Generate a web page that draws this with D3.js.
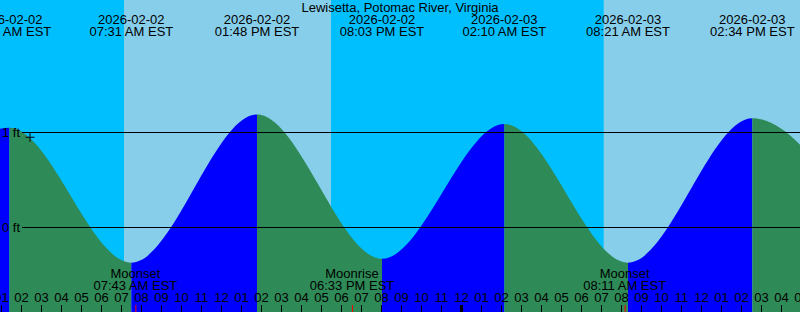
<!DOCTYPE html>
<html>
<head>
<meta charset="utf-8">
<script src="https://cdn.jsdelivr.net/npm/d3@7"></script>
<style>
  body { margin: 0; background: #fff; }
  svg { display: block; font-family: "Liberation Sans", Arial, sans-serif; }
</style>
</head>
<body>
<div id="tidechart"></div>
<script>
const stationName = "Lewisetta, Potomac River, Virginia";

// high / low tide predictions (first and last are just outside the window)
const tideTimes = ["2026-02-01 19:10", "2026-02-02 01:25", "2026-02-02 07:31", "2026-02-02 13:48",
    "2026-02-02 20:03", "2026-02-03 02:10", "2026-02-03 08:21", "2026-02-03 14:34", "2026-02-03 20:50"];
const tideHeights = [-0.32, 1.05, -0.37, 1.19, -0.33, 1.09, -0.37, 1.15, -0.32];

const sunriseTimes = ["2026-02-02 07:09", "2026-02-03 07:08"];
const sunsetTimes = ["2026-02-02 17:30", "2026-02-03 17:31"];

const moonEvents = ["Moonset", "Moonrise", "Moonset"];
const moonTimes = ["2026-02-02 07:43", "2026-02-02 18:33", "2026-02-03 08:11"];

const levelTicks = [0, 1];
const nowTime = "2026-02-02 02:27";
const nowLevel = 0.95;

const parse = d3.timeParse("%Y-%m-%d %H:%M");

function tidechart() {
    const width = 800, height = 312;

    const svg = d3.select("#tidechart")
        .append("svg")
        .attr("width", width)
        .attr("height", height);

    // 20px per hour; the scale runs one hour past the right edge so the
    // partly visible last hour label is drawn too
    const x = d3.scaleTime()
        .domain([new Date(2026, 1, 2, 0, 57), new Date(2026, 1, 3, 17, 57)])
        .range([0, width + 20]);

    const y = d3.scaleLinear()
        .domain([0, 1])
        .range([227.5, 132.5]);

    const tides = tideTimes.map((t, i) => ({ date: parse(t), h: tideHeights[i] }));

    // night background, day bands on top
    svg.append("rect")
        .attr("width", width)
        .attr("height", height)
        .attr("fill", "#00bfff");

    svg.selectAll("rect.day")
        .data(sunriseTimes)
        .join("rect")
        .attr("class", "day")
        .attr("x", (d) => x(parse(d)))
        .attr("width", (d, i) => x(parse(sunsetTimes[i])) - x(parse(d)))
        .attr("y", 0)
        .attr("height", height)
        .attr("fill", "#87ceeb");

    // tide curve, used as clip for rising / falling fills
    const area = d3.area()
        .x(d => x(d.date))
        .y0(height)
        .y1(d => y(d.h))
        .curve(d3.curveMonotoneX);

    svg.append("clipPath")
        .attr("id", "tideclip")
        .append("path")
        .datum(tides)
        .attr("d", area);

    svg.append("g")
        .attr("clip-path", "url(#tideclip)")
        .selectAll("rect")
        .data(d3.pairs(tides))
        .join("rect")
        .attr("x", d => x(d[0].date))
        .attr("width", d => x(d[1].date) - x(d[0].date))
        .attr("y", 0)
        .attr("height", height)
        .attr("fill", d => d[1].h > d[0].h ? "#0000ff" : "#2e8b57");

    // level lines
    svg.selectAll("line.level")
        .data(levelTicks)
        .join("line")
        .attr("x1", 22)
        .attr("x2", width)
        .attr("y1", d => y(d))
        .attr("y2", d => y(d))
        .attr("stroke", "#000");

    svg.selectAll("text.level")
        .data(levelTicks)
        .join("text")
        .attr("x", 20)
        .attr("y", d => y(d) + 4.5)
        .attr("text-anchor", "end")
        .attr("font-size", 13)
        .text(d => d + " ft");

    // current level marker
    const nx = x(parse(nowTime)), ny = y(nowLevel);
    svg.append("path")
        .attr("d", `M${nx - 4.5},${ny}H${nx + 4.5}M${nx},${ny - 4.5}V${ny + 4.5}`)
        .attr("stroke", "#000");

    // title and tide labels
    svg.append("text")
        .attr("x", width / 2)
        .attr("y", 11.5)
        .attr("text-anchor", "middle")
        .attr("font-size", 13)
        .text(stationName);

    const shown = tides.filter(d => x(d.date) > -60 && x(d.date) < width + 60);
    const tl = svg.selectAll("g.tidelabel")
        .data(shown)
        .join("g")
        .attr("class", "tidelabel")
        .attr("transform", d => `translate(${x(d.date)},0)`)
        .attr("text-anchor", "middle")
        .attr("font-size", 13);
    tl.append("text").attr("y", 24).text(d => d3.timeFormat("%Y-%m-%d")(d.date));
    tl.append("text").attr("y", 36).text(d => d3.timeFormat("%I:%M %p")(d.date) + " EST");

    // moon rise / set
    const ml = svg.selectAll("g.moon")
        .data(moonTimes)
        .join("g")
        .attr("class", "moon")
        .attr("transform", d => `translate(${x(parse(d))},0)`)
        .attr("text-anchor", "middle")
        .attr("font-size", 13);
    ml.append("text").attr("y", 278).text((d, i) => moonEvents[i]);
    ml.append("text").attr("y", 290).text(d => d3.timeFormat("%I:%M %p")(parse(d)) + " EST");
    ml.append("line")
        .attr("x1", 0.5).attr("x2", 0.5)
        .attr("y1", 305).attr("y2", height)
        .attr("stroke", "#ff0000");

    // hour axis along the bottom, labels above the ticks
    const axis = svg.append("g")
        .attr("transform", `translate(0,${height})`)
        .call(d3.axisTop(x)
            .ticks(d3.timeHour.every(1))
            .tickFormat(d3.timeFormat("%I"))
            .tickSize(7)
            .tickPadding(3));
    axis.select(".domain").remove();
    axis.selectAll("text")
        .attr("font-family", "Liberation Sans, Arial, sans-serif")
        .attr("font-size", 13)
        .attr("fill", "#000");
    axis.selectAll(".tick line")
        .attr("stroke", "#000")
        .attr("stroke-width", d => d.getHours() === 0 ? 3 : 1);
}

tidechart();
</script>
</body>
</html>
